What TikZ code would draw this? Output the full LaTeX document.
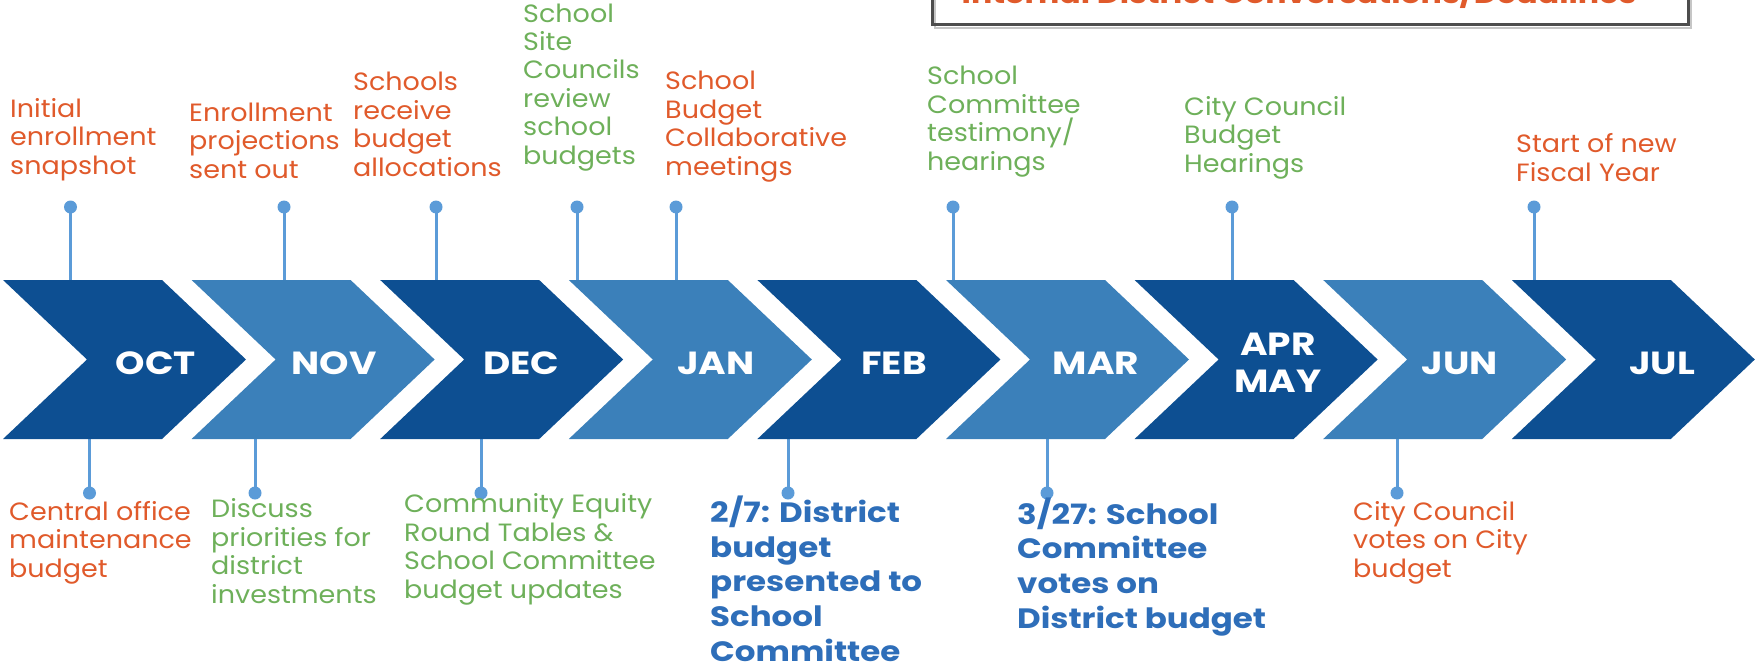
\documentclass[tikz,border=0pt]{standalone}
\usepackage{fontspec}
\setmainfont{Poppins}
\newfontfamily\lblfont[FakeStretch=1.08]{Poppins}
\newfontfamily\bluefont[FakeStretch=1.16]{Poppins}
\newfontfamily\monfont[FakeStretch=1.17]{Poppins}
\definecolor{dkblue}{HTML}{0D4F92}
\definecolor{ltblue}{HTML}{3B80BA}
\definecolor{stemblue}{HTML}{5B9BD8}
\definecolor{orng}{HTML}{E05A2B}
\definecolor{grn}{HTML}{6EB05A}
\definecolor{txtblue}{HTML}{2E6EB9}
\definecolor{boxgray}{HTML}{4D4D4D}
\begin{document}
\begin{tikzpicture}[x=1pt,y=-1pt,
  month/.style={text=white, font=\monfont\bfseries\fontsize{32}{37}\selectfont, align=center, inner sep=0pt},
  lbl/.style={anchor=base west, align=left, inner sep=0pt, font=\lblfont\fontsize{25}{28.4}\selectfont},
  bluelbl/.style={anchor=base west, align=left, inner sep=0pt, text=txtblue, font=\bluefont\bfseries\fontsize{28}{34.6}\selectfont},
  dot/.style={circle, fill=stemblue, minimum size=13pt, inner sep=0pt},
  stem/.style={draw=stemblue, line width=3pt}]
\useasboundingbox (0,0) rectangle (1755,669);

% legend box (cut at top)
\draw[line width=2pt, draw=gray!45] (935,-10) -- (935,28) -- (1691,28) -- (1691,-10);
\draw[line width=3pt, draw=boxgray] (932,-10) rectangle (1688,25);
\node[anchor=base, inner sep=0pt, text=orng, font=\monfont\bfseries\fontsize{27}{30}\selectfont] (hdr) at (1299,4) {Internal District Conversations/Deadlines};

% top stems
\foreach \n/\x in {1/70.5, 2/284, 3/436, 4/577, 5/676, 6/953, 7/1232, 8/1534}{
  \node[dot] (td\n) at (\x,207) {};
  \coordinate (tc\n) at (\x,281);
  \draw[stem] (td\n.center) -- (tc\n);
}
% bottom stems
\foreach \n/\x in {1/89.5, 2/255, 3/481, 4/788, 5/1047, 6/1397}{
  \node[dot] (bd\n) at (\x,493) {};
  \coordinate (bc\n) at (\x,438);
  \draw[stem] (bd\n.center) -- (bc\n);
}

% chevrons
\foreach \i/\cx/\m/\c in {0/156/OCT/dkblue, 1/334/NOV/ltblue, 2/521/DEC/dkblue, 3/716/JAN/ltblue, 4/894/FEB/dkblue, 5/1096/MAR/ltblue, 6/1278/{APR\\MAY}/dkblue, 7/1460/JUN/ltblue, 8/1662/JUL/dkblue}{
  \pgfmathsetmacro\xo{3+188.6*\i}
  \fill[\c] (\xo,280) -- ++(159,0) -- ++(84,79.5) -- ++(-84,79.5) -- ++(-159,0) -- ++(84,-79.5) -- cycle;
  \node[month] (m\i) at (\cx,363) {\m};
}

% top labels (anchored at the baseline of their last line)
\node[lbl, text=orng] (a1) at (10,174) {Initial\\enrollment\\snapshot};
\node[lbl, text=orng] (a2) at (189,178) {Enrollment\\projections\\sent out};
\node[lbl, text=orng] (a3) at (353,176) {Schools\\receive\\budget\\allocations};
\node[lbl, text=grn] (a4) at (523,164) {School\\Site\\Councils\\review\\school\\budgets};
\node[lbl, text=orng] (a5) at (665,175) {School\\Budget\\Collaborative\\meetings};
\node[lbl, text=grn] (a6) at (927,170) {School\\Committee\\testimony/\\hearings};
\node[lbl, text=grn] (a7) at (1184,172) {City Council\\Budget\\Hearings};
\node[lbl, text=orng] (a8) at (1516,181) {Start of new\\Fiscal Year};

% bottom labels
\node[lbl, text=orng] (b1) at (9,577) {Central office\\maintenance\\budget};
\node[lbl, text=grn] (b2) at (211,603) {Discuss\\priorities for\\district\\investments};
\node[lbl, text=grn] (b3) at (404,598) {Community Equity\\Round Tables \&\\School Committee\\budget updates};
\node[bluelbl] (b4) at (710,661) {2/7: District\\budget\\presented to\\School\\Committee};
\node[bluelbl] (b5) at (1017,628) {3/27: School\\Committee\\votes on\\District budget};
\node[lbl, text=orng] (b6) at (1353,577) {City Council\\votes on City\\budget};
\end{tikzpicture}
\end{document}
